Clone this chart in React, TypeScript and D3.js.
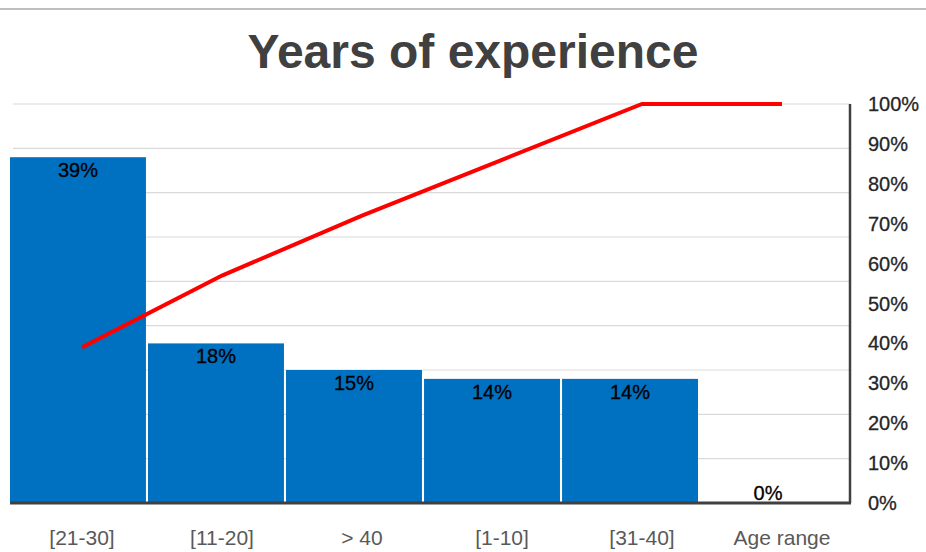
import React from "react";
import * as d3 from "d3";

const categories = ["[21-30]", "[11-20]", "> 40", "[1-10]", "[31-40]", "Age range"];
const shares = [0.39, 0.18, 0.15, 0.14, 0.14, 0];
const rightTicks = [0, 0.1, 0.2, 0.3, 0.4, 0.5, 0.6, 0.7, 0.8, 0.9, 1.0];
const gridTicks = [0.05, 0.1, 0.15, 0.2, 0.25, 0.3, 0.35, 0.4, 0.45];
const title = "Years of experience";

const W = 926;
const H = 552;
const FONT = "'Liberation Sans', Arial, sans-serif";

export default function App() {
  const baseY = 503;
  const topY = 104;
  const plotLeft = 10;
  const plotRight = 850;

  const xCat = d3.scaleBand<string>().domain(categories).range([12, 852]).padding(0);
  const xBar = d3
    .scaleBand<string>()
    .domain(categories)
    .range([plotLeft, 836])
    .paddingInner(0.015)
    .paddingOuter(0);
  const yLeft = d3.scaleLinear().domain([0, 0.45]).range([baseY, topY]);
  const yRight = d3.scaleLinear().domain([0, 1]).range([baseY, topY]);

  const total = d3.sum(shares);
  const cum = Array.from(d3.cumsum(shares)).map((v) => v / total);

  const line = d3
    .line<number>()
    .x((_, i) => (xCat(categories[i]) as number) + xCat.bandwidth() / 2)
    .y((d) => yRight(d));

  return (
    <svg
      width={W}
      height={H}
      style={{ position: "absolute", left: 0, top: 0, background: "#fff" }}
      fontFamily={FONT}
    >
      <rect x={0} y={0} width={W} height={H} fill="#fff" />
      <line x1={0} x2={W} y1={9} y2={9} stroke="#bfbfbf" strokeWidth={2} />
      <text
        x={473}
        y={68}
        textAnchor="middle"
        fontSize={48}
        fontWeight="bold"
        fill="#404040"
      >
        {title}
      </text>

      {gridTicks.map((t) => (
        <line
          key={t}
          x1={13}
          x2={plotRight}
          y1={yLeft(t)}
          y2={yLeft(t)}
          stroke="#d9d9d9"
          strokeWidth={1.2}
        />
      ))}

      {shares.map((v, i) => (
        <rect
          key={categories[i]}
          x={xBar(categories[i])}
          y={yLeft(v)}
          width={xBar.bandwidth()}
          height={baseY - yLeft(v)}
          fill="#0070c0"
        />
      ))}

      {shares.map((v, i) => (
        <text
          key={"l" + i}
          x={(xBar(categories[i]) as number) + xBar.bandwidth() / 2}
          y={v > 0 ? yLeft(v) + 20 : baseY - 3}
          textAnchor="middle"
          fontSize={20}
          fill="#000"
          stroke="#000"
          strokeWidth={0.3}
        >
          {Math.round(v * 100) + "%"}
        </text>
      ))}

      <path d={line(cum) || ""} fill="none" stroke="#ff0000" strokeWidth={4} />

      <line x1={plotLeft} x2={plotRight + 1} y1={baseY} y2={baseY} stroke="#404040" strokeWidth={3} />
      <line x1={plotRight} x2={plotRight} y1={topY} y2={baseY} stroke="#404040" strokeWidth={2.5} />

      {rightTicks.map((t) => (
        <text
          key={"r" + t}
          x={868}
          y={yRight(t) + 7}
          fontSize={20}
          fill="#262626"
          stroke="#262626"
          strokeWidth={0.3}
        >
          {Math.round(t * 100) + "%"}
        </text>
      ))}

      {categories.map((c) => (
        <text
          key={"c" + c}
          x={(xCat(c) as number) + xCat.bandwidth() / 2}
          y={545}
          textAnchor="middle"
          fontSize={21}
          fill="#595959"
        >
          {c}
        </text>
      ))}
    </svg>
  );
}
